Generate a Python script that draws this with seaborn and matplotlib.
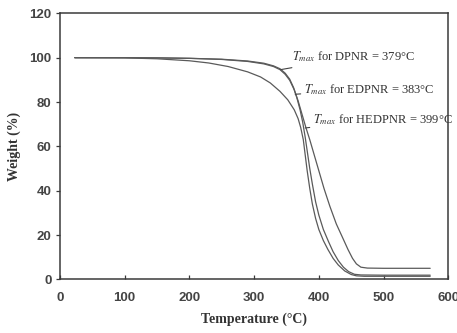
import numpy as np
import pandas as pd
import seaborn as sns
import matplotlib.pyplot as plt

# TGA curves
temp_1 = [23, 100, 150, 200, 230, 260, 290, 310, 325, 340, 352, 362, 368, 372, 376, 379, 382, 386,
          390, 395, 400, 407, 414, 422, 430, 440, 450, 458, 470, 500, 540, 572]
weight_1 = [100, 99.9, 99.5, 98.6, 97.6, 96.0, 93.6, 91.3, 88.6, 84.8, 81.0, 76.5, 72.5, 68.5, 63, 56, 49, 41,
            34, 27.5, 22.5, 17.5, 13.5, 9.5, 6.5, 3.8, 2.2, 1.6, 1.4, 1.4, 1.4, 1.4]

temp_2 = [23, 100, 150, 200, 250, 290, 315, 330, 340, 348, 355, 361, 366, 371, 375, 379, 383, 386,
          390, 395, 400, 407, 415, 422, 430, 438, 446, 455, 465, 500, 540, 572]
weight_2 = [100, 100, 99.9, 99.7, 99.3, 98.5, 97.5, 96.3, 95.0, 93.0, 90.3, 86.5, 82.0, 76.5, 71.0, 64.0, 56, 50,
            43, 35, 29, 22.5, 17, 12.5, 8.5, 5.5, 3.5, 2.3, 2.0, 1.9, 1.9, 1.9]

temp_3 = [23, 100, 150, 200, 250, 290, 315, 330, 340, 348, 355, 362, 368, 374, 380, 386, 393, 400,
          408, 417, 427, 438, 445, 452, 458, 465, 475, 500, 540, 572]
weight_3 = [100, 100, 99.9, 99.7, 99.2, 98.3, 97.2, 96.0, 94.6, 92.5, 89.8, 85.5, 80.5, 74.5, 68.5, 63, 56, 49,
            41, 33, 25, 18, 13.5, 9.5, 7, 5.5, 5.1, 5.0, 5.0, 5.0]

# Tmax annotations: label, point on curve, text position
labels = ["DPNR = 379°C", "EDPNR = 383°C", "HEDPNR = 399°C"]
point_t = [341, 363.5, 379]
point_w = [94.6, 83.5, 68.3]
text_t = [358, 377, 391]
text_w = [100.3, 85.7, 72.2]

sns.set_style("ticks")
plt.rcParams["mathtext.fontset"] = "stix"

fig, ax = plt.subplots(figsize=(4.57, 3.33), dpi=100)
fig.subplots_adjust(left=0.131, right=0.981, bottom=0.161, top=0.960)

for t, w in [(temp_1, weight_1), (temp_2, weight_2), (temp_3, weight_3)]:
    df = pd.DataFrame({"T": t, "W": w})
    sns.lineplot(data=df, x="T", y="W", ax=ax, color="#5a5a5a", linewidth=0.9, sort=False)

for lab, pt, pw, tt, tw in zip(labels, point_t, point_w, text_t, text_w):
    ax.annotate(r"$T_{max}$ for " + lab, xy=(pt, pw), xytext=(tt, tw),
                ha="left", va="center", fontsize=9, family="Liberation Serif", color="#333333",
                arrowprops=dict(arrowstyle="-", color="#444444", lw=0.8, shrinkA=0, shrinkB=0))

ax.set_xlim(0, 600)
ax.set_ylim(0, 120)
ax.set_xticks(np.arange(0, 601, 100))
ax.set_yticks(np.arange(0, 121, 20))

for s in ax.spines.values():
    s.set_visible(True)
    s.set_color("#3a3a3a")
    s.set_linewidth(1.1)

ax.tick_params(axis="x", direction="in", length=3, width=0.9, color="#3a3a3a", pad=9)
ax.tick_params(axis="y", direction="out", length=3, width=0.9, color="#3a3a3a", pad=3)
for lbl in ax.get_xticklabels() + ax.get_yticklabels():
    lbl.set_family("Liberation Sans")
    lbl.set_fontweight("bold")
    lbl.set_fontsize(9.5)
    lbl.set_color("#444444")

ax.set_xlabel("Temperature (°C)", family="Liberation Serif", fontweight="bold", fontsize=10,
              color="#333333", labelpad=6)
ax.set_ylabel("Weight (%)", family="Liberation Serif", fontweight="bold", fontsize=10,
              color="#333333", labelpad=6)

plt.savefig("out.png", dpi=100)
